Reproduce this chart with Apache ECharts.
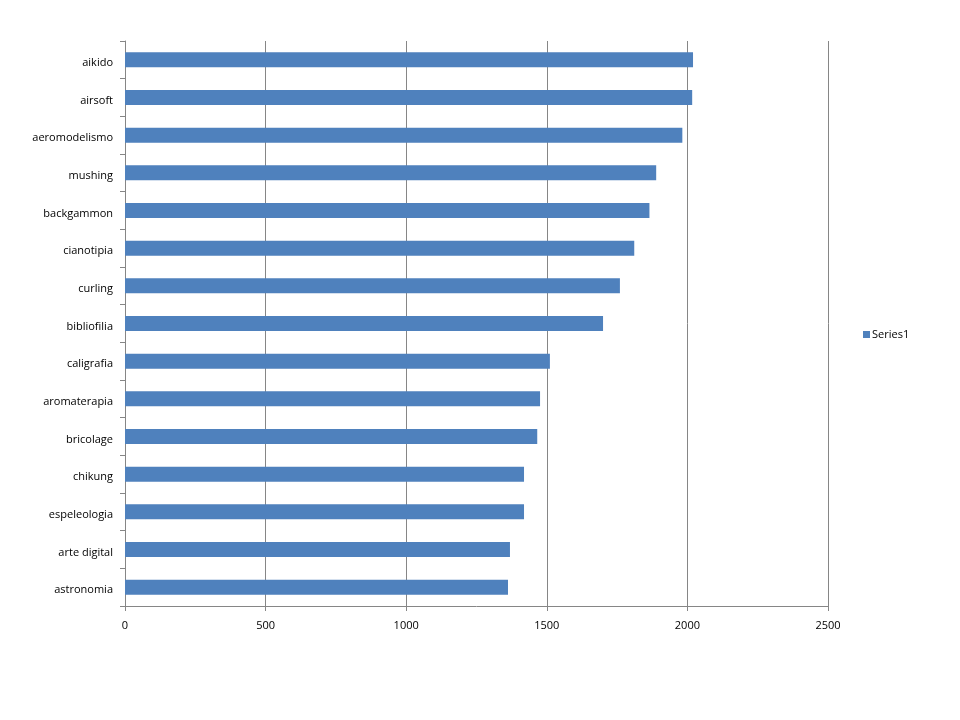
<!DOCTYPE html>
<html><head><meta charset="utf-8">
<script src="https://cdn.jsdelivr.net/npm/echarts@6/dist/echarts.min.js"></script>
<style>html,body{margin:0;padding:0;background:#fff}#c{width:960px;height:720px}</style>
</head><body><div id="c"></div>
<script>
const categories = ["astronomia","arte digital","espeleologia","chikung","bricolage","aromaterapia","caligrafia","bibliofilia","curling","cianotipia","backgammon","mushing","aeromodelismo","airsoft","aikido"];
const series1 = [1362,1369,1419,1419,1466,1476,1511,1700,1760,1811,1865,1889,1982,2017,2020];
const xTicks = [0,500,1000,1500,2000,2500];
const font = "'Open Sans', sans-serif";
const chart = echarts.init(document.getElementById('c'));
chart.setOption({
  animation:false,
  grid:{left:125,right:132,top:41,bottom:114},
  legend:{orient:'vertical',top:324,left:858,itemWidth:7,itemHeight:7,itemGap:4,
    icon:'rect',textStyle:{fontFamily:font,fontSize:11,color:'#000',padding:[1,0,0,-3]},data:['Series1']},
  xAxis:{type:'value',min:xTicks[0],max:xTicks[xTicks.length-1],interval:500,
    axisLine:{show:true,lineStyle:{color:'#868686'}},
    axisTick:{show:true,length:5,lineStyle:{color:'#868686'}},
    splitLine:{show:true,lineStyle:{color:'#868686',width:1}},
    axisLabel:{fontFamily:font,fontSize:11,color:'#000',margin:14,formatter:v=>String(v)}},
  yAxis:{type:'category',data:categories,
    axisLine:{show:true,lineStyle:{color:'#868686'}},
    axisTick:{show:true,length:5,lineStyle:{color:'#868686'}},
    axisLabel:{fontFamily:font,fontSize:11,color:'#000',margin:12,verticalAlign:'top',lineHeight:14,padding:[-4,0,0,0]}},
  series:[{name:'Series1',type:'bar',data:series1,barCategoryGap:'60%',
    itemStyle:{color:'#4F81BD'}}]
});
</script></body></html>
